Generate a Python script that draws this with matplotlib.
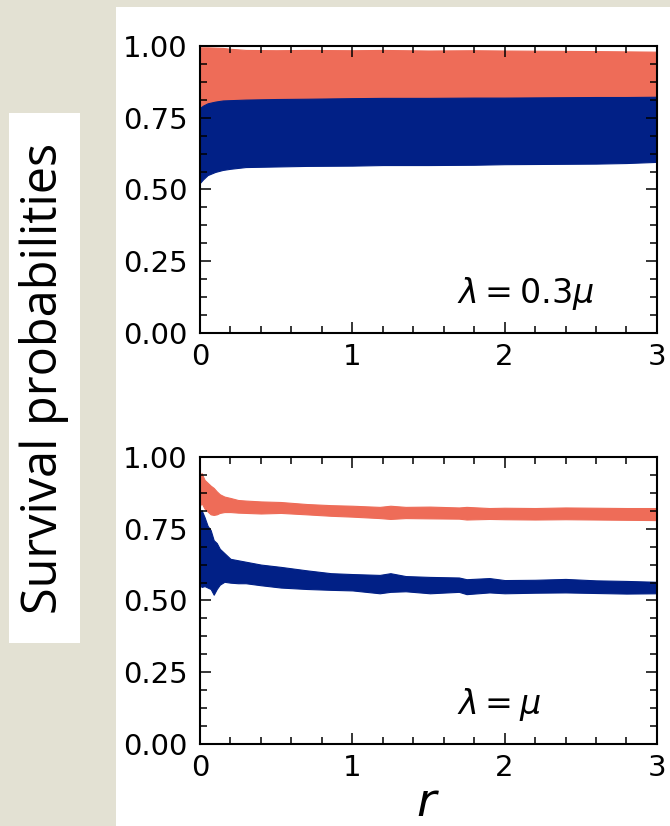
import matplotlib
matplotlib.use("Agg")
from matplotlib import pyplot as plt
from matplotlib.patches import Rectangle
from matplotlib.ticker import MultipleLocator, FormatStrFormatter

# envelopes (lower / upper) of the fast oscillating survival curves
# top panel: lambda = 0.3 mu
r_top = [0.0, 0.02, 0.05, 0.1, 0.15, 0.2, 0.3, 0.5, 0.7, 1.0, 1.2, 1.5, 1.8, 2.0, 2.3, 2.6, 2.8, 3.0]
top_orange_hi = [0.995, 0.995, 0.995, 0.994, 0.993, 0.99, 0.986, 0.985, 0.986, 0.985, 0.986, 0.984, 0.985, 0.984, 0.983, 0.982, 0.981, 0.98]
top_orange_lo = [0.78, 0.79, 0.80, 0.805, 0.81, 0.81, 0.812, 0.814, 0.815, 0.817, 0.818, 0.818, 0.819, 0.82, 0.82, 0.821, 0.821, 0.822]
top_blue_hi = [0.784, 0.792, 0.80, 0.806, 0.81, 0.811, 0.813, 0.815, 0.816, 0.818, 0.819, 0.819, 0.82, 0.82, 0.821, 0.822, 0.822, 0.823]
top_blue_lo = [0.523, 0.535, 0.55, 0.561, 0.568, 0.572, 0.578, 0.58, 0.582, 0.583, 0.585, 0.585, 0.586, 0.588, 0.589, 0.59, 0.592, 0.596]

# bottom panel: lambda = mu
r_bot = [0.0, 0.01, 0.03, 0.05, 0.07, 0.09, 0.11, 0.13, 0.16, 0.2, 0.25, 0.3, 0.4, 0.53, 0.7, 0.86, 1.0, 1.18, 1.25, 1.35, 1.51, 1.7, 1.75, 1.9, 2.0, 2.2, 2.4, 2.6, 2.8, 3.0]
bot_orange_hi = [0.92, 0.944, 0.92, 0.91, 0.90, 0.892, 0.88, 0.87, 0.862, 0.857, 0.85, 0.848, 0.845, 0.843, 0.836, 0.832, 0.83, 0.826, 0.83, 0.826, 0.827, 0.824, 0.826, 0.822, 0.823, 0.822, 0.824, 0.823, 0.822, 0.822]
bot_orange_lo = [0.83, 0.84, 0.82, 0.81, 0.80, 0.798, 0.80, 0.805, 0.808, 0.808, 0.806, 0.805, 0.803, 0.805, 0.80, 0.795, 0.792, 0.787, 0.784, 0.787, 0.786, 0.785, 0.782, 0.784, 0.783, 0.782, 0.783, 0.782, 0.781, 0.78]
bot_blue_hi = [0.80, 0.815, 0.79, 0.76, 0.745, 0.71, 0.70, 0.68, 0.665, 0.645, 0.64, 0.635, 0.625, 0.617, 0.605, 0.595, 0.592, 0.589, 0.595, 0.585, 0.582, 0.58, 0.574, 0.578, 0.571, 0.572, 0.575, 0.57, 0.568, 0.565]
bot_blue_lo = [0.56, 0.547, 0.55, 0.545, 0.54, 0.52, 0.54, 0.555, 0.565, 0.562, 0.56, 0.56, 0.553, 0.545, 0.54, 0.537, 0.535, 0.525, 0.53, 0.532, 0.525, 0.53, 0.522, 0.528, 0.525, 0.527, 0.528, 0.526, 0.524, 0.525]

orange = '#ee6c58'
blue = '#012086'

fig = plt.figure(figsize=(6.7, 8.26), dpi=100)
fig.patch.set_facecolor('#e3e1d3')
# white panel behind the plots and the white box behind the y label
fig.patches.append(Rectangle((0.173, 0), 0.827, 0.9915, transform=fig.transFigure, facecolor='white', edgecolor='none', zorder=-10))
fig.patches.append(Rectangle((0.0134, 0.2215), 0.106, 0.6416, transform=fig.transFigure, facecolor='white', edgecolor='none', zorder=-10))

ax1 = fig.add_axes([0.2985, 0.5969, 0.682, 0.3475])
ax2 = fig.add_axes([0.2985, 0.0993, 0.682, 0.3475])

panels = [
	(ax1, r_top, top_orange_lo, top_orange_hi, top_blue_lo, top_blue_hi, r'$\lambda = 0.3\mu$'),
	(ax2, r_bot, bot_orange_lo, bot_orange_hi, bot_blue_lo, bot_blue_hi, r'$\lambda = \mu$'),
]

for ax, r, olo, ohi, blo, bhi, label in panels:
	ax.fill_between(r, olo, ohi, color=orange, linewidth=0.8, edgecolor=orange)
	ax.fill_between(r, blo, bhi, color=blue, linewidth=0.8, edgecolor=blue)
	ax.set_xlim(0, 3)
	ax.set_ylim(0, 1)
	ax.xaxis.set_major_locator(MultipleLocator(1))
	ax.xaxis.set_minor_locator(MultipleLocator(0.2))
	ax.yaxis.set_major_locator(MultipleLocator(0.25))
	ax.yaxis.set_minor_locator(MultipleLocator(0.0625))
	ax.yaxis.set_major_formatter(FormatStrFormatter('%.2f'))
	ax.tick_params(which='both', direction='in', top=True, right=True, labelsize=21, width=1.1, colors='black')
	ax.tick_params(which='major', length=8)
	ax.tick_params(which='minor', length=5)
	ax.tick_params(axis='x', pad=7)
	ax.tick_params(axis='y', pad=9)
	for s in ax.spines.values():
		s.set_linewidth(1.5)
	ax.text(0.562, 0.105, label, transform=ax.transAxes, fontsize=24, ha='left', va='baseline')

fig.text(0.639, 0.012, r'$r$', fontsize=34, ha='center', va='baseline')
fig.text(0.0664, 0.5424, 'Survival probabilities', rotation=90, fontsize=35, family='Open Sans', ha='center', va='center')

fig.savefig('out.png', dpi=100, facecolor=fig.get_facecolor())
